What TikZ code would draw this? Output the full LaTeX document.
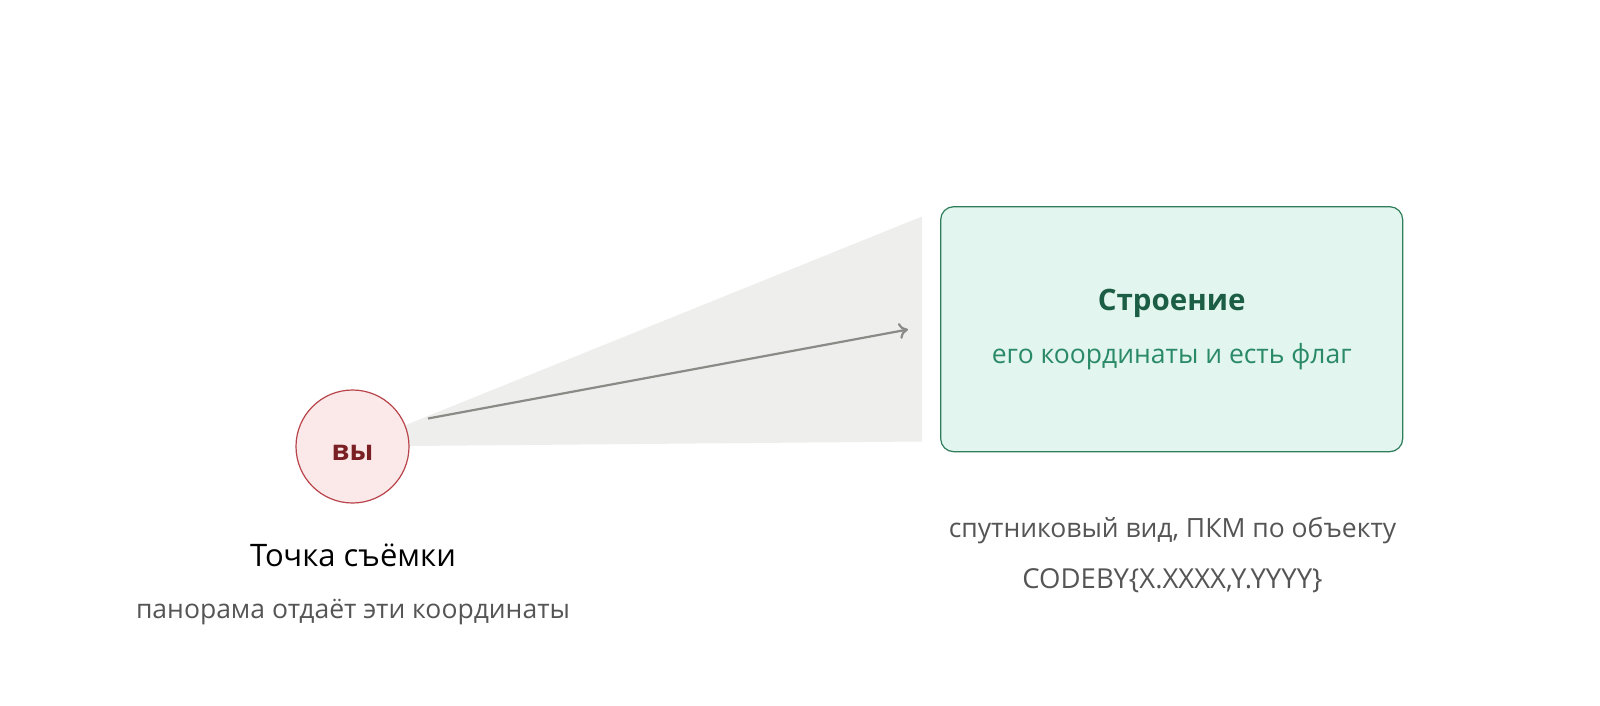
\documentclass[tikz,border=0pt]{standalone}
\usepackage{fontspec}
\setmainfont{Open Sans}
\usetikzlibrary{arrows.meta}
\definecolor{wedgegray}{HTML}{EEEEEC}
\definecolor{arrowgray}{HTML}{8A8A86}
\definecolor{youfill}{HTML}{FBE9E9}
\definecolor{youline}{HTML}{B8434A}
\definecolor{youtext}{HTML}{7A1F24}
\definecolor{bldfill}{HTML}{E2F5EE}
\definecolor{bldline}{HTML}{2E7D5B}
\definecolor{bldtitle}{HTML}{1B5E45}
\definecolor{bldsub}{HTML}{2A8A68}
\definecolor{subgray}{HTML}{555555}
\tikzset{
  youcircle/.style={circle, draw=youline, line width=1.2pt, fill=youfill, minimum size=113pt, inner sep=0pt},
  bldbox/.style={draw=bldline, line width=1.2pt, fill=bldfill, rounded corners=13pt,
    minimum width=462pt, minimum height=245pt, inner sep=0pt},
  lbl/.style={inner sep=0pt, anchor=center},
}
\begin{document}
\begin{tikzpicture}[x=1pt,y=-1pt]
\useasboundingbox (0,0) rectangle (1600,706);
\fill[white] (0,0) rectangle (1600,706);
% wedge
\coordinate (apex) at (352.5,446.5);
\coordinate (wtop) at (922,216.5);
\coordinate (wbot) at (922,441.5);
\fill[wedgegray] (apex) -- (wtop) -- (wbot) -- cycle;
% you
\node[youcircle] (you) at (352.5,446.5) {};
\node[lbl, text=youtext, font=\fontsize{28}{32}\selectfont\bfseries] (yout) at ([yshift=-6pt]you.center) {вы};
% building box
\node[bldbox] (bld) at (1171.7,329.2) {};
\node[lbl, text=bldtitle, font=\fontsize{29.5}{34}\selectfont\bfseries] (bldt) at (1171.7,303) {Строение};
\node[lbl, text=bldsub, font=\fontsize{26.5}{30}\selectfont] (blds) at (1171.7,357) {его координаты и есть флаг};
% arrow
\coordinate (as) at (428,418.5);
\coordinate (ae) at (908,329.5);
\draw[arrowgray, line width=2.2pt, -{To[length=9pt,width=16pt]}] (as) -- (ae);
% labels
\node[lbl, text=black, font=\fontsize{31}{36}\selectfont] (youl) at (353,555) {Точка съёмки};
\node[lbl, text=subgray, font=\fontsize{26.5}{30}\selectfont] (yous) at (353,612) {панорама отдаёт эти координаты};
\node[lbl, text=subgray, font=\fontsize{26.5}{30}\selectfont] (bldn1) at (1172.5,531) {спутниковый вид, ПКМ по объекту};
\node[lbl, text=subgray, font=\fontsize{27.5}{32}\selectfont] (bldn2) at (1172.5,581) {CODEBY\{X.XXXX,Y.YYYY\}};
\end{tikzpicture}
\end{document}
